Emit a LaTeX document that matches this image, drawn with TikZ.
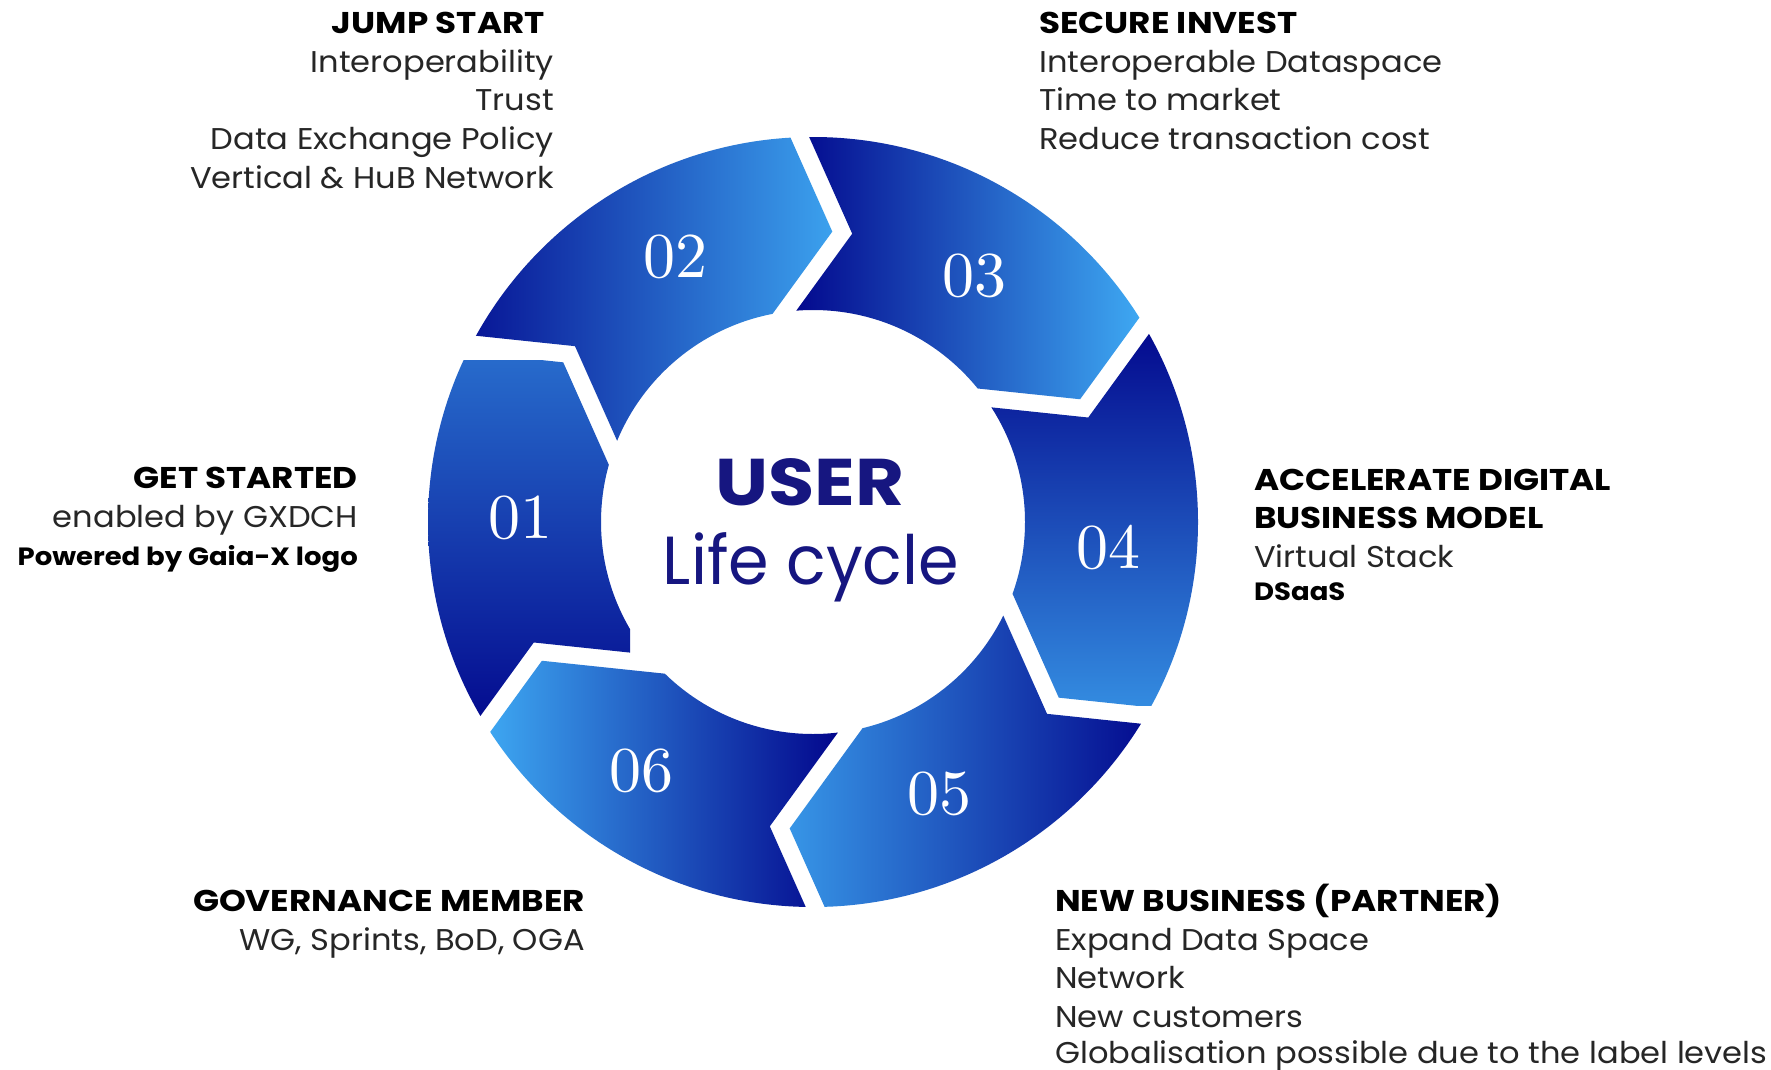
\documentclass[tikz,border=0pt]{standalone}
\usepackage{fontspec}
\setmainfont{Poppins}[FakeStretch=1.07]
\newfontfamily\bfam{Poppins}[FakeStretch=1.14]
\newfontfamily\smfam{Poppins}[FakeStretch=1.10]
\newfontfamily\lifef{Poppins}[FakeStretch=0.96]
\newfontfamily\lmfont{lmroman10-regular.otf}
\definecolor{dk}{RGB}{2,6,140}
\definecolor{lt}{RGB}{62,168,242}
\definecolor{navy}{RGB}{22,22,128}
\newcommand\ringseg[3]{%
  \begin{scope}[even odd rule]
    \clip (813,-522) circle (385) (813,-522) circle (212);
    \clip (bo#2) -- (ba#2) -- (bi#2) -- (fi#1) -- (fa#1) -- (fo#1) -- (far#1) -- cycle;
    #3
  \end{scope}}
\begin{document}
\begin{tikzpicture}[x=1pt,y=1pt,
  txt/.style={inner sep=0pt, text=black!85, font=\fontsize{30}{36}\selectfont},
  ttl/.style={inner sep=0pt, text=black, font=\fontsize{30}{36}\selectfont\bfam\bfseries},
  sml/.style={inner sep=0pt, text=black, font=\fontsize{25}{30}\selectfont\smfam\bfseries},
  num/.style={inner sep=0pt, text=white, font=\fontsize{64}{64}\selectfont\lmfont}]
\useasboundingbox (0,0) rectangle (1771,-1070);
\fill[white] (0,0) rectangle (1771,-1070);
\def\g{20}\def\s{140}\def\rr{299}
\foreach \k/\p in {1/144,2/84,3/24,4/-36,5/-96,6/-156}{
  \begin{scope}[shift={(811,-530)}, rotate=\p-90]
    \coordinate (fo\k) at (-\g/2-0.5*\s, \rr+0.866*\s);
    \coordinate (fa\k) at (-\g/2, \rr);
    \coordinate (fi\k) at (-\g/2-0.5*\s, \rr-0.866*\s);
    \coordinate (bo\k) at (\g/2-0.5*\s, \rr+0.866*\s);
    \coordinate (ba\k) at (\g/2, \rr);
    \coordinate (bi\k) at (\g/2-0.5*\s, \rr-0.866*\s);
    \coordinate (far\k) at (120:720);
  \end{scope}
}
\ringseg{1}{6}{\shade[top color=lt!62!dk, bottom color=dk] (420,-360) rectangle (630,-740);}
\ringseg{2}{1}{\shade[left color=dk!92!lt, right color=lt] (465,-130) rectangle (850,-440);}
\ringseg{3}{2}{\shade[left color=dk, right color=lt] (790,-130) rectangle (1140,-415);}
\ringseg{4}{3}{\shade[top color=dk, bottom color=lt!82!dk] (975,-320) rectangle (1200,-705);}
\ringseg{5}{4}{\shade[left color=lt!92!dk, right color=dk] (775,-600) rectangle (1160,-910);}
\ringseg{6}{5}{\shade[left color=lt, right color=dk] (485,-635) rectangle (840,-910);}
% numbers
\node[num] (n1) at (520,-518) {01};
\node[num] (n2) at (675,-257) {02};
\node[num] (n3) at (974,-276) {03};
\node[num] (n4) at (1108,-548) {04};
\node[num] (n5) at (939,-794) {05};
\node[num] (n6) at (641,-771) {06};
% centre text
\node[inner sep=0pt, text=navy, font=\fontsize{66}{66}\selectfont\bfam\bfseries, anchor=base] (user) at (810,-505) {USER};
\node[inner sep=0pt, text=navy, font=\fontsize{68}{68}\selectfont\lifef, anchor=base] (life) at (811,-584) {Life cycle};
% JUMP START
\node[ttl, anchor=base east] (j0) at (545,-33.5) {JUMP START};
\node[txt, anchor=base east] (j1) at (554,-72.5) {Interoperability};
\node[txt, anchor=base east] (j2) at (554,-111) {Trust};
\node[txt, anchor=base east] (j3) at (554,-149.5) {Data Exchange Policy};
\node[txt, anchor=base east] (j4) at (554,-188) {Vertical \& HuB Network};
% SECURE INVEST
\node[ttl, anchor=base west] (s0) at (1039,-33.5) {SECURE INVEST};
\node[txt, anchor=base west] (s1) at (1039,-72.5) {Interoperable Dataspace};
\node[txt, anchor=base west] (s2) at (1039,-111) {Time to market};
\node[txt, anchor=base west] (s3) at (1039,-149.5) {Reduce transaction cost};
% GET STARTED
\node[ttl, anchor=base east] (g0) at (358,-488.5) {GET STARTED};
\node[txt, anchor=base east] (g1) at (358,-527) {enabled by GXDCH};
\node[sml, anchor=base east] (g2) at (358,-565) {Powered by Gaia-X logo};
% ACCELERATE
\node[ttl, anchor=base west] (a0) at (1254,-490) {ACCELERATE DIGITAL};
\node[ttl, anchor=base west] (a1) at (1254,-528) {BUSINESS MODEL};
\node[txt, anchor=base west] (a2) at (1254,-567) {Virtual Stack};
\node[sml, anchor=base west] (a3) at (1254,-600) {DSaaS};
% GOVERNANCE
\node[ttl, anchor=base east] (v0) at (585,-911.5) {GOVERNANCE MEMBER};
\node[txt, anchor=base east] (v1) at (585,-950) {WG, Sprints, BoD, OGA};
% NEW BUSINESS
\node[ttl, anchor=base west] (b0) at (1055,-911.5) {NEW BUSINESS (PARTNER)};
\node[txt, anchor=base west] (b1) at (1055,-950) {Expand Data Space};
\node[txt, anchor=base west] (b2) at (1055,-988.5) {Network};
\node[txt, anchor=base west] (b3) at (1055,-1027) {New customers};
\node[txt, anchor=base west] (b4) at (1055,-1063) {Globalisation possible due to the label levels};
\end{tikzpicture}
\end{document}
